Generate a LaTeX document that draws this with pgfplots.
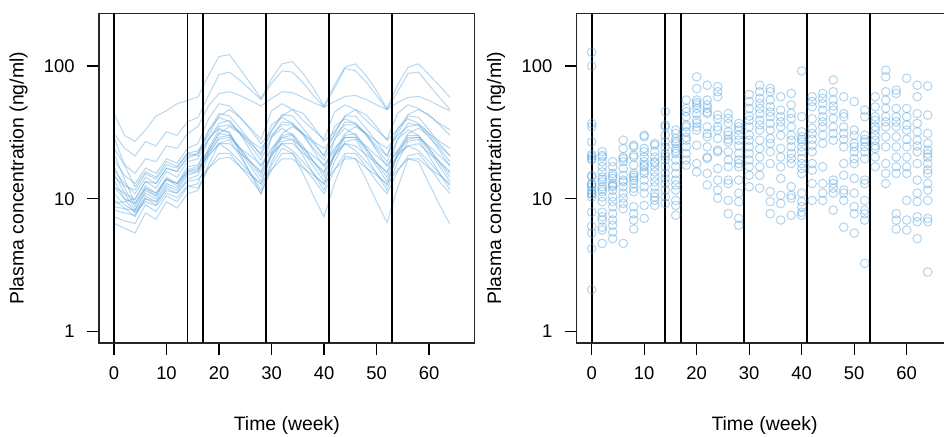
\documentclass[border=0pt]{standalone}
\usepackage{fontspec}
\setmainfont{Liberation Sans}
\usepackage{pgfplots}
\usepackage{pgfplotstable}
\pgfplotsset{compat=1.18}
\definecolor{pk}{RGB}{80,160,220}

\pgfplotstableread{
id 0 2 4 6 8 10 12 14 16 18 20 22 24 26 28 30 32 34 36 38 40 42 44 46 48 50 52 54 56 58 60 62 64
s1 44 30 27 33 42 46 52 55 58.5 85 118 122 95 74 57 80 104 108 88 68 50 72 98 104 85 65 48 72 98 104 86 71 58
s2 31 24 21 27 25 32 30 38 41 60 86 90 78 66 56 74 92 90 75 60 49 68 96 92 76 60 47 64 88 90 72 58 47
s3 24 18 15.5 20 19 25 24 31 35 50 62 64 60 55 50 57 64 63 58 53 49 54 59 60 56 51 47 53 58 59 55 50 46
s4 19.5 15 13 17 15.5 20 18.5 24 26 40 52 50 41 34 28 46 52 47 39 33 28 45 51 47 39 33 28 44 51 48 42 37 33
s5 14.6 12.5 11.6 15.5 14 18 17 22 23 30 42 47 41 33 26 32 42 47 44 35 27 32 42 47 43 35 27.5 33 43 47 43 36 30
s6 29 18 12.3 16 14.5 19 17.5 22 21 32 44 42 34 27 21 33 43 42 34 27 21 31 42 42 34 27 21 31 42 41 33 26 21
s7 16.4 13 10.9 14.5 13 17 16 20 22 33 41 38 31 26 22 36 41 37 31 26 21 35 40 37 31 25 21 34 40 37 31 25 21
s8 12.3 11 9.8 13.5 12 16 14.5 19 20 28 37 39 31 25 19.5 29 38 37 30 24 19.5 28 38 37 30 24 19 28 37 36 29 24 19
s9 21.9 14 9.2 12.5 11 14.5 13 17.4 18 23 31 35 31 23 17.5 23 31 35 31 23 17.5 23 31 35 31 23 17.5 23 31 34 30 23 17.5
s10 8.7 8.4 8.2 11.5 10.5 14 13 16.5 17.5 28 34 31 24 19 15.5 29 34 30 24 19 15.5 28 34 30 24 19 15.5 28 33 30 24 19 15.5
s11 17.4 12 8.7 12 10.5 14 12.5 16 16.5 23 31 30 24 18.5 14.6 22 30 31 25 19 14.6 22 30 31 24 18.5 14.5 22 30 30 24 18.5 14.5
s12 9.8 8.5 7.3 10 9 12 11 14 15 22 29 30 23 17.5 13.5 21 29 30 23 17.5 13.5 21 29 29 23 17.5 13.5 21 29 29 23 17.5 13.5
s13 7.3 6.8 6.5 9 8 10.5 9.5 12.3 13 21 26 23 19 15.5 12.7 22 26 23 19 15.5 12.7 22 26 23 19 15.5 12.5 22 25 23 19 15.5 12.5
s14 6.5 6 5.5 7.8 7 9.5 8.5 10.9 11.5 18 26 28 21 15.5 11.6 19 27 28 21 15.5 11.6 19 27 28 21 15.5 11.6 19 27 28 21 15.5 11.6
s15 13.8 10 7.8 9.5 8.8 11 10.2 12.5 12 17 22 22 17.5 14 11 16.5 22 22 17.5 14 10.9 16.5 22 22 17.5 13.5 10.9 16 21 22 17.5 13.5 10.9
s16 15.5 11 8.2 11 10 13 12 15.5 16 24 33 32 22 15.5 10.8 18 24 22 15.5 10.5 7.3 13 21 20 14 9.5 6.6 12 20 19 13 9 6.4
s17 9.2 9.5 10 13.5 13 17 16 21 22 28 35 36 32 27 24 30 36 36 31 27 24 30 36 36 31 27 24 30 35 36 31 27 24
s18 8.2 7.8 7.5 10.5 9.5 12.5 11.5 15 16 22 28 29 24 21 18 24 29 28 24 21 18 24 29 29 25 21 18 23 28 29 25 21 18
s19 12.3 10 9.2 12 11 14 13 16 17 21 26 26 22 19 16 21 26 26 22 19 16 21 26 25 21.5 18.5 16 21 25 26 22 19 16
s20 10.9 9 8 10 9.5 11.5 11 13.5 14 17 20 20.5 17.5 15 13 16.5 20 20 17 15 13 16.5 20 20 17 15 13 16.5 20 20 17 15 13
}\predraw
\pgfplotstabletranspose[colnames from=id]\pred\predraw

\pgfplotstableread[row sep=\\]{
t c\\
0 127\\ 0 100\\ 0 36.9\\ 0 34.8\\ 0 26.8\\ 0 21.5\\ 0 20.9\\ 0 20.1\\ 0 19.6\\ 0 15\\ 0 14.6\\ 0 13\\ 0 12.8\\ 0 12.3\\ 0 11.6\\ 0 11\\ 0 10.8\\ 0 10.3\\ 0 7.9\\ 0 6.2\\ 0 5.5\\ 0 4.2\\ 0 2.06\\
2 22.6\\ 2 21.2\\ 2 20.6\\ 2 19\\ 2 17.4\\ 2 15.9\\ 2 14.6\\ 2 14\\ 2 13.4\\ 2 12.3\\ 2 11.8\\ 2 11.3\\ 2 10.3\\ 2 9.5\\ 2 7.9\\ 2 7.3\\ 2 6.9\\ 2 6.1\\ 2 5.8\\ 2 4.6\\
4 19\\ 4 17.4\\ 4 15.5\\ 4 14.8\\ 4 14.2\\ 4 13\\ 4 12.6\\ 4 12.3\\ 4 11.6\\ 4 10.3\\ 4 9.5\\ 4 8.7\\ 4 7.7\\ 4 6.9\\ 4 6.3\\ 4 5.6\\ 4 5\\
6 27.6\\ 6 23.9\\ 6 20.6\\ 6 20\\ 6 19\\ 6 16.9\\ 6 15\\ 6 13.8\\ 6 13.4\\ 6 12.3\\ 6 11\\ 6 10.1\\ 6 9.2\\ 6 8.4\\ 6 4.6\\
8 25.3\\ 8 24.6\\ 8 21.3\\ 8 20.6\\ 8 17.9\\ 8 15.5\\ 8 15\\ 8 14.4\\ 8 13.8\\ 8 13\\ 8 12\\ 8 11.3\\ 8 8.7\\ 8 7.7\\ 8 6.9\\ 8 5.9\\
10 30.1\\ 10 29.3\\ 10 23.9\\ 10 22.6\\ 10 20.6\\ 10 19\\ 10 18\\ 10 17.4\\ 10 16.2\\ 10 15.5\\ 10 13.8\\ 10 12.3\\ 10 11\\ 10 8.9\\ 10 7.1\\
12 26.1\\ 12 25.3\\ 12 22.6\\ 12 20.6\\ 12 19\\ 12 18.6\\ 12 17.4\\ 12 15.9\\ 12 14.6\\ 12 13.4\\ 12 12.3\\ 12 11\\ 12 10.3\\ 12 9.7\\ 12 8.9\\
14 45.3\\ 14 35.9\\ 14 34.8\\ 14 30.1\\ 14 26.8\\ 14 24.6\\ 14 21.9\\ 14 20.8\\ 14 19.6\\ 14 17.4\\ 14 15.5\\ 14 14.2\\ 14 13\\ 14 11.6\\ 14 10.3\\ 14 9.2\\
16 32.9\\ 16 31\\ 16 28.4\\ 16 27\\ 16 26.1\\ 16 23.9\\ 16 22.8\\ 16 21.9\\ 16 19.6\\ 16 17.4\\ 16 15.5\\ 16 13.8\\ 16 12.7\\ 16 11.6\\ 16 9.7\\ 16 8.9\\ 16 7.5\\
18 55.4\\ 18 47.9\\ 18 45.3\\ 18 41.5\\ 18 36\\ 18 34.8\\ 18 31.9\\ 18 29\\ 18 27.6\\ 18 24.6\\ 18 21.9\\ 18 19.6\\ 18 17.9\\
20 83\\ 20 67.7\\ 20 55.4\\ 20 53\\ 20 51\\ 20 47.9\\ 20 43.8\\ 20 39\\ 20 37\\ 20 34.8\\ 20 32.9\\ 20 25.3\\ 20 18.4\\ 20 15.9\\
22 71.7\\ 22 55.4\\ 22 51\\ 22 47.9\\ 22 45\\ 22 43.8\\ 22 34.8\\ 22 31\\ 22 29.3\\ 22 24.6\\ 22 20.6\\ 22 20.1\\ 22 15.5\\ 22 12.7\\
24 69.9\\ 24 64\\ 24 58.7\\ 24 42.7\\ 24 40\\ 24 34.8\\ 24 32.9\\ 24 28.4\\ 24 23.2\\ 24 22.6\\ 24 16.9\\ 24 13.8\\ 24 11.6\\ 24 10.1\\
26 43.8\\ 26 40.3\\ 26 36.9\\ 26 31.9\\ 26 30.1\\ 26 28\\ 26 26.8\\ 26 22.6\\ 26 19.6\\ 26 17.4\\ 26 13.8\\ 26 13\\ 26 9.7\\ 26 7.7\\
28 36.9\\ 28 34.8\\ 28 32.9\\ 28 30.1\\ 28 27.6\\ 28 25\\ 28 22\\ 28 19.6\\ 28 18.4\\ 28 17.4\\ 28 13.8\\ 28 11\\ 28 9.5\\ 28 7.1\\ 28 6.3\\
30 61\\ 30 54\\ 30 47.9\\ 30 42\\ 30 39\\ 30 34.8\\ 30 30.1\\ 30 27.6\\ 30 24.6\\ 30 21.9\\ 30 19.6\\ 30 17.4\\ 30 15\\ 30 12.3\\
32 71.7\\ 32 64\\ 32 57\\ 32 52.2\\ 32 47.9\\ 32 43.8\\ 32 39\\ 32 36\\ 32 32.9\\ 32 27.6\\ 32 23.9\\ 32 20.6\\ 32 17.4\\ 32 15\\ 32 12\\
34 67.7\\ 34 64\\ 34 55.4\\ 34 49.3\\ 34 45\\ 34 41.5\\ 34 36.9\\ 34 32.9\\ 34 28.4\\ 34 26.1\\ 34 22.6\\ 34 18.4\\ 34 11.3\\ 34 9.5\\ 34 7.7\\
36 58.7\\ 36 46.5\\ 36 41.5\\ 36 38\\ 36 34.8\\ 36 30\\ 36 23.9\\ 36 20.6\\ 36 17.4\\ 36 14.2\\ 36 10.6\\ 36 9.2\\ 36 6.9\\
38 62.1\\ 38 51\\ 38 44\\ 38 40.3\\ 38 34.8\\ 38 30.1\\ 38 27.6\\ 38 24.6\\ 38 21.9\\ 38 20.1\\ 38 18.4\\ 38 12.3\\ 38 10.6\\ 38 10.1\\ 38 7.5\\
40 92\\ 40 41.5\\ 40 31.9\\ 40 29.3\\ 40 28\\ 40 26.8\\ 40 24.6\\ 40 22.6\\ 40 20.1\\ 40 18.4\\ 40 16.9\\ 40 15.5\\ 40 11\\ 40 9.5\\ 40 8.7\\ 40 7.9\\ 40 7.5\\
42 58.7\\ 42 54\\ 42 49.3\\ 42 40\\ 42 33.9\\ 42 31\\ 42 28\\ 42 25.3\\ 42 22.6\\ 42 18.4\\ 42 16.4\\ 42 13\\ 42 9.7\\
44 62.1\\ 44 57.3\\ 44 52.2\\ 44 46.5\\ 44 41.5\\ 44 38\\ 44 34.8\\ 44 30.1\\ 44 26.1\\ 44 17.4\\ 44 13\\ 44 11\\ 44 9.7\\
46 78.5\\ 46 64\\ 46 55.4\\ 46 50\\ 46 46.5\\ 46 40.3\\ 46 34.8\\ 46 31\\ 46 27.6\\ 46 13.8\\ 46 13\\ 46 12\\ 46 11\\ 46 8.2\\
48 58.7\\ 48 43.8\\ 48 41.5\\ 48 34.8\\ 48 31\\ 48 28\\ 48 24.6\\ 48 18.4\\ 48 15\\ 48 11.6\\ 48 11\\ 48 9.7\\ 48 6.1\\
50 54\\ 50 32.9\\ 50 30\\ 50 26.1\\ 50 24.6\\ 50 22.6\\ 50 20\\ 50 18.4\\ 50 14.2\\ 50 11\\ 50 8.7\\ 50 7.7\\ 50 5.5\\
52 46.5\\ 52 41.5\\ 52 30.1\\ 52 28\\ 52 26.8\\ 52 24.6\\ 52 22.6\\ 52 20\\ 52 13.8\\ 52 13\\ 52 9.7\\ 52 8.2\\ 52 7.7\\ 52 6.9\\ 52 3.25\\
54 58.7\\ 54 49.3\\ 54 41.5\\ 54 39\\ 54 35\\ 54 32.9\\ 54 30\\ 54 27.6\\ 54 25\\ 54 23.9\\ 54 20.6\\ 54 17.4\\
56 93\\ 56 83\\ 56 64\\ 56 55.4\\ 56 48\\ 56 41.5\\ 56 38\\ 56 34.8\\ 56 29.3\\ 56 24.6\\ 56 18.4\\ 56 15.5\\ 56 13\\
58 65.9\\ 58 62.1\\ 58 47.9\\ 58 41.5\\ 58 38\\ 58 34.8\\ 58 29.3\\ 58 24.6\\ 58 20.6\\ 58 17.4\\ 58 15.5\\ 58 7.7\\ 58 6.9\\ 58 5.9\\
60 80.9\\ 60 47.9\\ 60 41.5\\ 60 36\\ 60 32.9\\ 60 28\\ 60 24.6\\ 60 20.6\\ 60 17.4\\ 60 15.5\\ 60 9.7\\ 60 6.9\\ 60 5.8\\
62 71.7\\ 62 58.7\\ 62 43.8\\ 62 36.9\\ 62 31.9\\ 62 27.6\\ 62 25\\ 62 22.6\\ 62 18.4\\ 62 13.8\\ 62 11\\ 62 9.5\\ 62 7.3\\ 62 6.7\\ 62 5\\
64 70.6\\ 64 42.7\\ 64 31\\ 64 26.1\\ 64 23.2\\ 64 21.8\\ 64 20.6\\ 64 18.4\\ 64 16.5\\ 64 15.5\\ 64 13\\ 64 11.6\\ 64 9.7\\ 64 7.1\\ 64 6.7\\ 64 2.8\\
}\obs

\pgfplotsset{
  panel/.style={
    scale only axis, width=187.85pt, height=164.85pt,
    xmin=-2.857, xmax=68.7, ymin=0.816, ymax=250,
    xtick={0,10,20,30,40,50,60}, xticklabels={0,10,20,30,40,50,60},
    ytick={1,10,100}, yticklabels={1,10,100},
    yminorticks=false, xminorticks=false,
    tick align=outside, xtick pos=left, ytick pos=left,
    major tick length=6pt,
    axis line style={black!85, line width=0.55pt},
    every tick/.style={black, line width=0.6pt},
    xticklabel style={font=\fontsize{9.2}{10}\selectfont, inner sep=0pt, anchor=center, yshift=-9.25pt},
    yticklabel style={font=\fontsize{9.2}{10}\selectfont, inner sep=0pt, anchor=east, xshift=-6pt},
    xlabel={Time (week)}, ylabel={Plasma concentration (ng/ml)},
    label style={font=\fontsize{9.7}{11}\selectfont},
    xlabel style={at={(axis description cs:0.5,-0.2487)}, anchor=center},
    ylabel style={at={(axis description cs:-0.2143,0.5)}, anchor=center},
  },
}

\begin{document}
\begin{tikzpicture}
\begin{axis}[ymode=log, panel, at={(49.5pt,47pt)}, anchor=south west]
\pgfplotsinvokeforeach{1,...,20}{
  \addplot[pk, line width=0.5pt, draw opacity=0.42] table[x=colnames, y=s#1]{\pred};
}
\pgfplotsinvokeforeach{0,14,17,29,41,53}{
  \addplot[black, line width=0.9pt] coordinates {(#1,0.816) (#1,250)};
}
\end{axis}
\begin{axis}[ymode=log, panel, at={(288.35pt,47pt)}, anchor=south west]
\addplot[only marks, mark=o, mark size=2.15pt, pk, mark options={line width=0.5pt, draw opacity=0.45}] table[x=t, y=c]{\obs};
\pgfplotsinvokeforeach{0,14,17,29,41,53}{
  \addplot[black, line width=0.9pt] coordinates {(#1,0.816) (#1,250)};
}
\end{axis}
\pgfresetboundingbox
\path[use as bounding box] (0,0) rectangle (472pt,218.5pt);
\end{tikzpicture}
\end{document}
